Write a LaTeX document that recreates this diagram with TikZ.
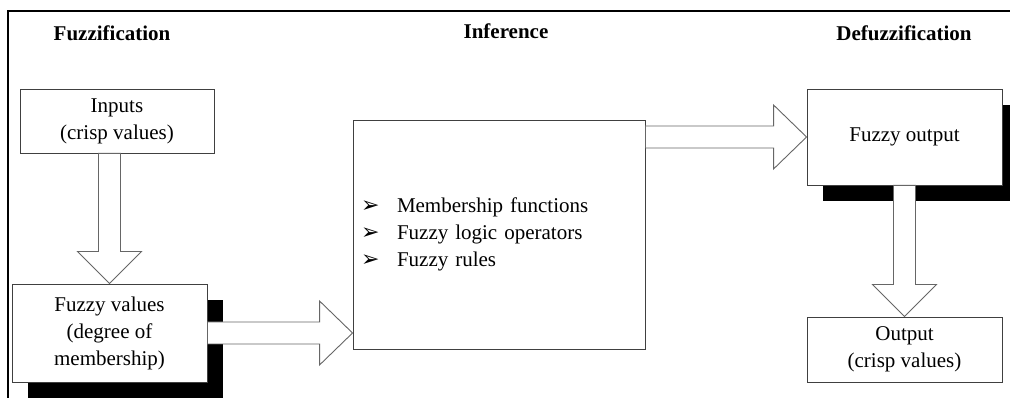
\documentclass[tikz,border=0pt]{standalone}
\usepackage{fontspec}
\setmainfont{Liberation Serif}
\newfontfamily\dingfont{DejaVu Sans}
\usepackage{tikz}
\usetikzlibrary{calc,shadows}
\tikzset{
  box/.style={draw=black!75,line width=0.9pt,fill=white,align=center,
    inner sep=0pt},
  shadowbox/.style={box,drop shadow={shadow xshift=16pt,shadow yshift=-16pt,
    fill=black,opacity=1}},
  fatarrow/.style={draw=black!60,line width=0.9pt,fill=white},
  heading/.style={font=\fontsize{21}{27}\selectfont\bfseries}
}
% hollow block arrows: start point, tip point
\newcommand{\fatdown}[2]{%
  \draw[fatarrow] let \p1=#1, \p2=#2 in
    (\x2-11,\y1) -- (\x2-11,\y2+32) -- (\x2-32,\y2+32) -- (\x2,\y2)
    -- (\x2+32,\y2+32) -- (\x2+11,\y2+32) -- (\x2+11,\y1) -- cycle;}
\newcommand{\fatright}[2]{%
  \draw[fatarrow] let \p1=#1, \p2=#2 in
    (\x1,\y2+11) -- (\x2-33,\y2+11) -- (\x2-33,\y2+32) -- (\x2,\y2)
    -- (\x2-33,\y2-32) -- (\x2-33,\y2-11) -- (\x1,\y2-11) -- cycle;}
\newcommand{\point}{\makebox[36pt][l]{\dingfont\fontsize{22}{27}\selectfont ➢}}
\begin{document}
\begin{tikzpicture}[x=1pt,y=1pt,font=\fontsize{21}{27}\selectfont]
    \useasboundingbox (0,0) rectangle (1010,398);
    % frame
    \draw[line width=2pt] (8,0) -- (8,386.5) -- (1010,386.5);
    % headings
    \node[heading] (fuzzification) at (112,365) {Fuzzification};
    \node[heading] (inferencetitle) at (506,367) {Inference};
    \node[heading] (defuzzification) at (904,365) {Defuzzification};
    % blocks
    \node[box,minimum width=194pt,minimum height=64pt] (inputs) at (117,277)
        {Inputs\\(crisp values)};
    \node[shadowbox,minimum width=195pt,minimum height=98pt] (fuzzyval) at (109.5,65)
        {Fuzzy values\\(degree of\\membership)};
    \node[box,minimum width=292pt,minimum height=229pt,text width=276pt,
        inner xsep=8pt,align=left] (inference) at (499,163.5)
        {\point Membership functions\\\point Fuzzy logic operators\\\point Fuzzy rules};
    \node[shadowbox,minimum width=195pt,minimum height=96pt] (fuzzyout) at (904.5,261)
        {Fuzzy output};
    \node[box,minimum width=195pt,minimum height=65pt] (output) at (904.5,48.5)
        {Output\\(crisp values)};
    % block arrows
    \fatdown{(inputs.south)}{(fuzzyval.north)}
    \fatright{(fuzzyval.east)}{(inference.west |- fuzzyval.east)}
    \fatright{(inference.east)}{(fuzzyout.west)}
    \fatdown{(fuzzyout.south)}{(output.north)}
\end{tikzpicture}
\end{document}
